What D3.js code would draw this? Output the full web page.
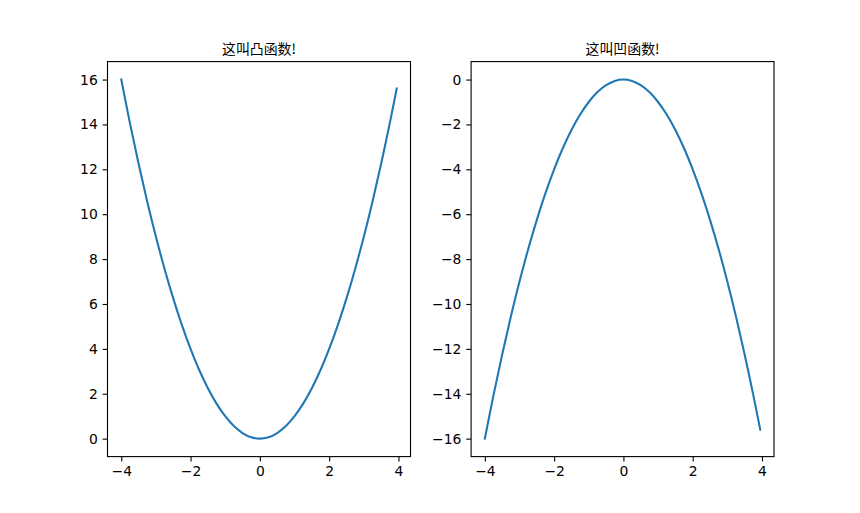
<!DOCTYPE html>
<meta charset="utf-8">
<script src="https://d3js.org/d3.v7.min.js"></script>
<style>
  body { margin: 0; background: #fff; }
  text { font-family: "DejaVu Sans", sans-serif; }
</style>
<div id="chart"></div>
<script>

// x values
var xValues = [-4, -3.75, -3.5, -3.25, -3, -2.75, -2.5, -2.25, -2, -1.75, -1.5, -1.25, -1, -0.75, -0.5, -0.25,
               0, 0.25, 0.5, 0.75, 1, 1.25, 1.5, 1.75, 2, 2.25, 2.5, 2.75, 3, 3.25, 3.5, 3.75, 3.95];
// left panel curve
var convexValues = [16, 14.06, 12.25, 10.56, 9, 7.56, 6.25, 5.06, 4, 3.06, 2.25, 1.56, 1, 0.56, 0.25, 0.06,
                    0, 0.06, 0.25, 0.56, 1, 1.56, 2.25, 3.06, 4, 5.06, 6.25, 7.56, 9, 10.56, 12.25, 14.06, 15.6];
// right panel curve
var concaveValues = [-16, -14.06, -12.25, -10.56, -9, -7.56, -6.25, -5.06, -4, -3.06, -2.25, -1.56, -1, -0.56, -0.25, -0.06,
                     0, -0.06, -0.25, -0.56, -1, -1.56, -2.25, -3.06, -4, -5.06, -6.25, -7.56, -9, -10.56, -12.25, -14.06, -15.6];

var titles = ["这叫凸函数!", "这叫凹函数!"];
var xTicks = [-4, -2, 0, 2, 4];
var convexTicks = [0, 2, 4, 6, 8, 10, 12, 14, 16];
var concaveTicks = [-16, -14, -12, -10, -8, -6, -4, -2, 0];

var width = 860, height = 513;
var plotTop = 61.6, plotBottom = 456.6;
var panels = [
  {left: 107.5, right: 410.5, ys: convexValues, ticks: convexTicks, title: titles[0]},
  {left: 471.1, right: 774, ys: concaveValues, ticks: concaveTicks, title: titles[1]}
];

var svg = d3.select("#chart")
  .append("svg")
    .attr("width", width)
    .attr("height", height);

var fmt = function(d) { return String(d).replace("-", "\u2212"); };

panels.forEach(function(p) {
  var ext = d3.extent(p.ys);
  var pad = (ext[1] - ext[0]) * 0.05;
  var xExt = d3.extent(xValues);
  var xPad = (xExt[1] - xExt[0]) * 0.05;

  var x = d3.scaleLinear()
    .domain([xExt[0] - xPad, xExt[1] + xPad])
    .range([p.left, p.right]);
  var y = d3.scaleLinear()
    .domain([ext[0] - pad, ext[1] + pad])
    .range([plotBottom, plotTop]);

  var data = xValues.map(function(v, i) { return {x: v, y: p.ys[i]}; });

  svg.append("path")
    .datum(data)
    .attr("d", d3.line()
      .x(function(d) { return x(d.x); })
      .y(function(d) { return y(d.y); })
      .curve(d3.curveCatmullRom))
    .attr("fill", "none")
    .attr("stroke", "#1f77b4")
    .attr("stroke-width", 2.08)
    .attr("stroke-linecap", "square");

  var xAxis = svg.append("g")
    .attr("transform", "translate(0," + plotBottom + ")")
    .call(d3.axisBottom(x).tickValues(xTicks).tickFormat(fmt).tickSizeInner(4.86).tickSizeOuter(0).tickPadding(4.2));
  var yAxis = svg.append("g")
    .attr("transform", "translate(" + p.left + ",0)")
    .call(d3.axisLeft(y).tickValues(p.ticks).tickFormat(fmt).tickSizeInner(4.86).tickSizeOuter(0).tickPadding(4.86));

  [xAxis, yAxis].forEach(function(a) {
    a.select(".domain").remove();
    a.selectAll("line").attr("stroke", "#000").attr("stroke-width", 1.1);
    a.selectAll("text")
      .attr("font-family", "DejaVu Sans")
      .attr("font-size", "13.9px")
      .attr("fill", "#000");
  });

  // frame
  svg.append("rect")
    .attr("x", p.left)
    .attr("y", plotTop)
    .attr("width", p.right - p.left)
    .attr("height", plotBottom - plotTop)
    .attr("fill", "none")
    .attr("stroke", "#000")
    .attr("stroke-width", 1.1);

  svg.append("text")
    .attr("x", (p.left + p.right) / 2)
    .attr("y", plotTop - 8)
    .attr("text-anchor", "middle")
    .style("font-family", "'Noto Sans CJK SC'")
    .attr("font-size", "13.9px")
    .attr("fill", "#000")
    .text(p.title);
});

</script>
